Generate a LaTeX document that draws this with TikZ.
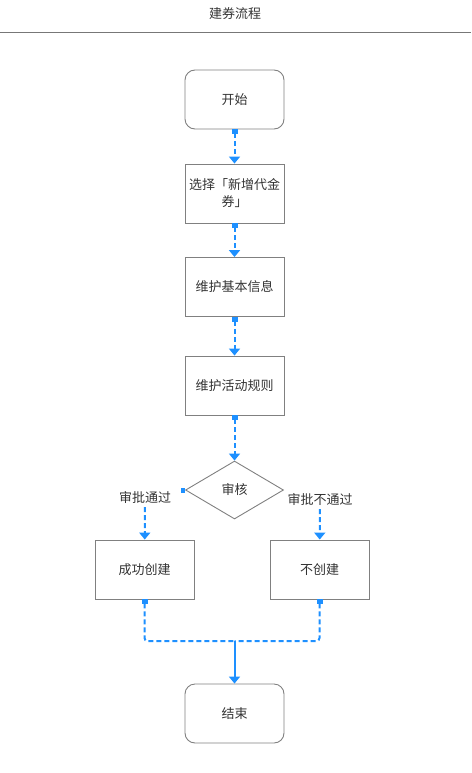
\documentclass[tikz,border=0pt]{standalone}
\usepackage{fontspec}
\setmainfont{Noto Sans CJK SC}
\usetikzlibrary{shapes.geometric,arrows.meta}
\definecolor{flowblue}{HTML}{1E90FF}
\definecolor{boxgray}{HTML}{808080}
\definecolor{txtc}{HTML}{333333}
\definecolor{rulegray}{HTML}{777777}
\begin{document}
\begin{tikzpicture}[x=1pt,y=1pt,
  every node/.style={text=txtc, font=\fontsize{13}{17}\selectfont},
  flowbox/.style={draw=boxgray, line width=0.9pt, minimum width=99pt, minimum height=59pt, align=center, inner sep=2pt},
  roundbox/.style={flowbox, rounded corners=10pt},
  decision/.style={diamond, draw=boxgray, line width=0.9pt, minimum width=98pt, minimum height=58pt, inner sep=0pt, aspect=1.7},
  lbl/.style={inner sep=2pt, outer sep=2pt},
  flowline/.style={flowblue, line width=2pt, dash pattern=on 5pt off 3pt},
  link/.style={flowline, {Square[length=5pt,width=6pt]}-{Triangle[length=7pt,width=11pt]}},
  plainlink/.style={flowline, -{Triangle[length=7pt,width=11pt]}},
  mergeline/.style={flowline, {Square[length=5pt,width=6pt]}-, rounded corners=3pt},
  solidlink/.style={flowblue, line width=2pt, -{Triangle[length=7pt,width=11pt]}}
]
\useasboundingbox (0,0) rectangle (471,-773);
\node (title) at (235,-14) {建券流程};
\coordinate (hl) at (0,-32.5);
\coordinate (hr) at (471,-32.5);
\draw[rulegray, line width=1pt] (hl) -- (hr);

\node[roundbox] (start) at (234.5,-99.5) {开始};
\node[flowbox] (sel) at (234.5,-193.5) {选择「新增代金\\券」};
\node[flowbox] (info) at (234.5,-287) {维护基本信息};
\node[flowbox] (rule) at (234.5,-385.5) {维护活动规则};
\node[decision] (audit) at (234.5,-490) {审核};
\node[flowbox] (ok) at (144.5,-569.5) {成功创建};
\node[flowbox] (no) at (319.5,-569.5) {不创建};
\node[roundbox] (end) at (234.5,-713.5) {结束};

\node[lbl] (oklbl) at (145,-497) {审批通过};
\node[lbl] (nolbl) at (320,-499) {审批不通过};

\draw[link] (start) -- (sel);
\draw[link] (sel) -- (info);
\draw[link] (info) -- (rule);
\draw[link] (rule) -- (audit);

\fill[flowblue] ([xshift=-4.5pt,yshift=-2.5pt]audit.west) rectangle ([xshift=-0.5pt,yshift=2.5pt]audit.west);
\draw[plainlink] (oklbl) -- (ok);
\draw[plainlink] (nolbl) -- (no);

\coordinate (merge) at (234.5,-641);
\draw[mergeline] (ok) |- (merge);
\draw[mergeline] (no) |- (merge);
\draw[solidlink] (merge) -- (end);
\end{tikzpicture}
\end{document}
